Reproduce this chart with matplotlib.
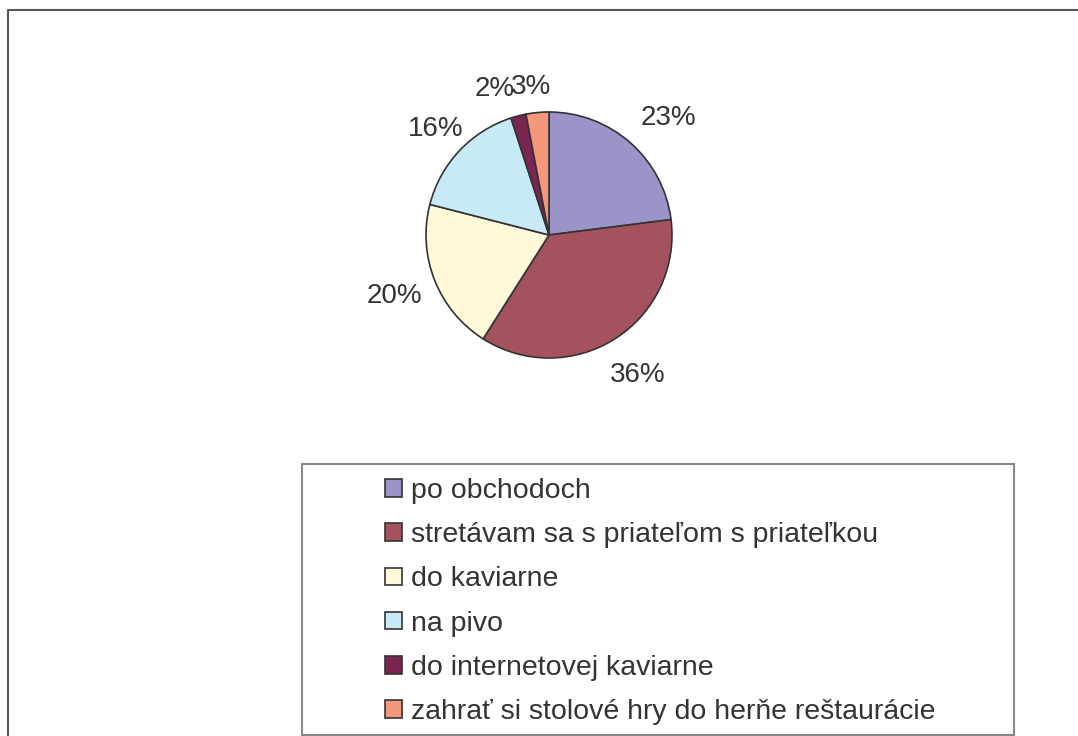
import numpy as np
import matplotlib
matplotlib.use("Agg")
import matplotlib.pyplot as plt
from matplotlib.lines import Line2D
from matplotlib.patches import Rectangle

plt.rcParams['font.family'] = ['Liberation Sans', 'DejaVu Sans']

# data
labels = ['po obchodoch',
          'stretávam sa s priateľom s priateľkou',
          'do kaviarne',
          'na pivo',
          'do internetovej kaviarne',
          'zahrať si stolové hry do herňe reštaurácie']
values = [23, 36, 20, 16, 2, 3]
colors = ['#9A94C8', '#A5525F', '#FFF9D9', '#C8E9F8', '#7D2552', '#F4977A']
# where each % label sits: distance from centre (radii) and angle nudge (deg)
label_dist = [1.36, 1.35, 1.35, 1.26, 1.27, 1.21]
label_turn = [-4, 0, 0, 0, 6, 1.5]

W, H = 1078, 736
fig = plt.figure(figsize=(W / 100, H / 100), dpi=100)

# pie, centre (549,235) radius 123 px
cx, cy, r = 549, 235, 123
ax = fig.add_axes([(cx - r) / W, 1 - (cy + r) / H, 2 * r / W, 2 * r / H])
wedges, texts = ax.pie(values, colors=colors, startangle=90, counterclock=False,
                       wedgeprops=dict(edgecolor='#333333', linewidth=1.2))
total = sum(values)
for w, v, d, t in zip(wedges, values, label_dist, label_turn):
    a = np.deg2rad((w.theta1 + w.theta2) / 2 + t)
    ax.text(d * np.cos(a), d * np.sin(a), '%d%%' % round(100 * v / total),
            ha='center', va='center', fontsize=20, color='#333333')
ax.set_xlim(-1, 1)
ax.set_ylim(-1, 1)
ax.set_aspect('equal')
ax.axis('off')

# outer frame (only left and top are visible in the crop)
fig.add_artist(Line2D([8 / W, 8 / W, 1], [0, 1 - 10 / H, 1 - 10 / H],
                      transform=fig.transFigure, color='#555555', linewidth=1.5))

# legend box
fig.add_artist(Rectangle((302 / W, 1 - 735 / H), (1014 - 302) / W, (735 - 464) / H,
                         transform=fig.transFigure, fill=False,
                         edgecolor='#888888', linewidth=1.5))

leg = fig.legend(wedges, labels, loc='upper left',
                 bbox_to_anchor=(385 / W, 1 - 478 / H),
                 frameon=False, fontsize=20.5, labelcolor='#333333',
                 handlelength=0.58, handleheight=0.58, handletextpad=0.33,
                 labelspacing=0.64, borderaxespad=0, borderpad=0)
for h in leg.legend_handles:
    h.set_linewidth(1.2)

fig.savefig('out.png', dpi=100)
